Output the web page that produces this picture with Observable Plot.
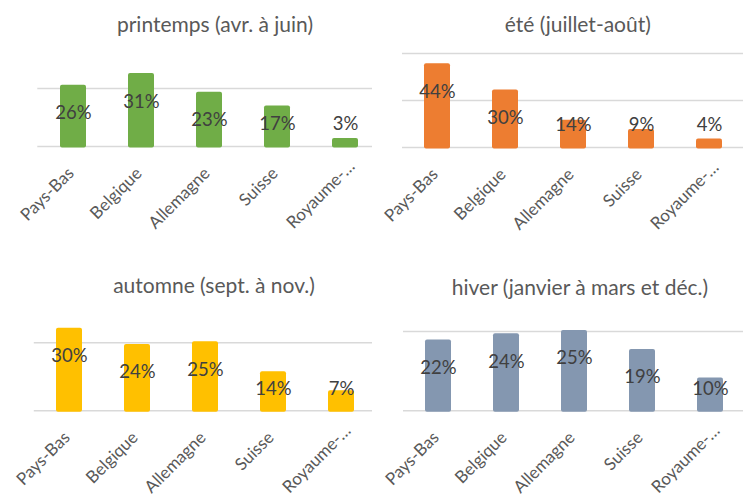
<!DOCTYPE html>
<html><head><meta charset="utf-8">
<script src="https://cdn.jsdelivr.net/npm/d3@7"></script>
<script src="https://cdn.jsdelivr.net/npm/@observablehq/plot@0.6"></script>
<style>
html,body{margin:0;padding:0;background:#fff;}
#root{position:relative;width:743px;height:499px;overflow:hidden;background:#fff;}
.panel{position:absolute;}
.panel h2{margin:0;box-sizing:border-box;height:50px;font-family:Lato,"Open Sans",sans-serif;font-weight:400;font-size:21px;line-height:26px;color:#595959;text-align:center;white-space:nowrap;}
.panel svg{display:block;}
</style></head><body><div id="root"></div>
<script>
// ---- data ----
const categories = ["Pays-Bas", "Belgique", "Allemagne", "Suisse", "Royaume-…"];
const titles = ["printemps (avr. à juin)", "été (juillet-août)", "automne (sept. à nov.)", "hiver (janvier à mars et déc.)"];
const printemps = [0.26, 0.31, 0.23, 0.17, 0.03];
const ete = [0.44, 0.30, 0.14, 0.09, 0.04];
const automne = [0.30, 0.24, 0.25, 0.14, 0.07];
const hiver = [0.22, 0.24, 0.25, 0.19, 0.10];
const gridPrintemps = [0, 0.25];
const gridEte = [0, 0.25, 0.5];
const gridAutomne = [0, 0.25];
const gridHiver = [0, 0.25];

// ---- layout / style ----
const panels = [
  {title: titles[0], values: printemps, grid: gridPrintemps, color: "#70AD47",
   left: 0, top: 0, width: 372, height: 250, ml: 37.3, mr: -8, gridTop: 88, base: 146, tc: 215, tb: 32},
  {title: titles[1], values: ete, grid: gridEte, color: "#ED7D31",
   left: 372, top: 0, width: 371, height: 250, ml: 30, mr: 0, gridTop: 53, base: 147, tc: 205.8, tb: 32},
  {title: titles[2], values: automne, grid: gridAutomne, color: "#FFC000",
   left: 0, top: 250, width: 372, height: 249, ml: 33.8, mr: -4, gridTop: 92.3, base: 160.3, tc: 214, tb: 43.3},
  {title: titles[3], values: hiver, grid: gridHiver, color: "#8497B0",
   left: 372, top: 250, width: 371, height: 249, ml: 31, mr: -2, gridTop: 81, base: 160.3, tc: 208, tb: 45}
];
const TITLE_H = 50;
const TITLE_FS = 21, TITLE_LH = 26;
const fmt = d3.format(".0%");
const root = document.getElementById("root");
const isCut = d => d.cat.endsWith("…");

for (const p of panels) {
  const div = document.createElement("div");
  div.className = "panel";
  div.style.left = p.left + "px";
  div.style.top = p.top + "px";
  div.style.width = p.width + "px";
  const h2 = document.createElement("h2");
  h2.textContent = p.title;
  const baseOff = (TITLE_LH - 1.2 * TITLE_FS) / 2 + 0.987 * TITLE_FS;
  h2.style.paddingTop = (p.tb - baseOff) + "px";
  const shift = 2 * (p.tc - p.width / 2);
  if (shift >= 0) h2.style.paddingLeft = shift + "px"; else h2.style.paddingRight = (-shift) + "px";
  div.appendChild(h2);

  const data = categories.map((c, i) => ({cat: c, v: p.values[i]}));
  const ymax = d3.max(p.grid);
  const k = (p.base - p.gridTop) / ymax; // px per unit
  const inside = data.filter(d => d.v * k > 49);
  const low = data.filter(d => d.v * k <= 49);
  const labelStyle = {x: "cat", y: () => 0, text: "cat", rotate: -45, textAnchor: "end", lineAnchor: "middle", fill: "#595959", fontSize: 17};

  const chart = Plot.plot({
    width: p.width,
    height: p.height - TITLE_H,
    marginLeft: p.ml,
    marginRight: p.mr,
    marginTop: p.gridTop - TITLE_H,
    marginBottom: p.height - p.base,
    style: {fontFamily: "Lato, 'Open Sans', sans-serif", background: "transparent", overflow: "hidden"},
    x: {domain: categories, axis: null, paddingInner: 0.62, paddingOuter: 0.31},
    y: {domain: [0, ymax], axis: null},
    marks: [
      Plot.ruleY(p.grid, {stroke: "#D9D9D9", strokeWidth: 1.6}),
      Plot.barY(data, {x: "cat", y: "v", fill: p.color, rx: 2, insetBottom: -1.5, insetTop: -1}),
      Plot.text(inside, {x: "cat", y: "v", text: d => fmt(d.v), dy: 27, lineAnchor: "middle", fill: "#404040", fontSize: 18.5}),
      Plot.text(low, {x: "cat", y: () => 0, text: d => fmt(d.v), dy: -22, lineAnchor: "middle", fill: "#404040", fontSize: 18.5}),
      Plot.text(data.filter(d => !isCut(d)), {...labelStyle, dx: -2.5, dy: 24}),
      Plot.text(data.filter(isCut), {...labelStyle, dx: 6.5, dy: 17})
    ]
  });
  div.appendChild(chart);
  root.appendChild(div);
}
</script>
</body></html>
